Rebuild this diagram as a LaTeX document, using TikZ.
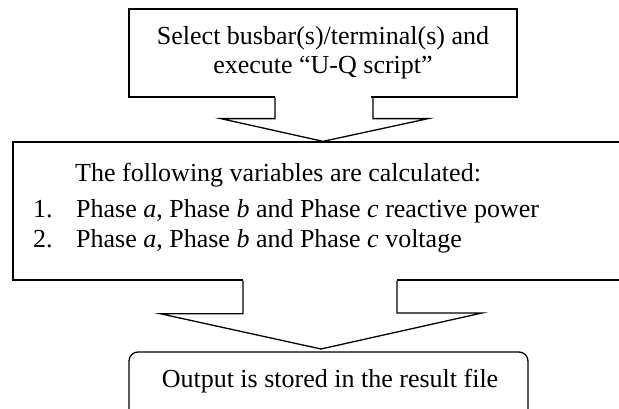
\documentclass[tikz,border=0pt]{standalone}
\usepackage{fontspec}
\setmainfont{Liberation Serif}
\usepackage{tikz}
\usetikzlibrary{calc}

\begin{document}
\begin{tikzpicture}[x=1pt, y=-1pt, line join=miter,
      every node/.style={font=\fontsize{26}{29}\selectfont},
      box/.style={draw=black, line width=1.3pt, inner sep=0pt},
      rbox/.style={box, rounded corners=9pt},
      txt/.style={inner sep=0pt, align=center},
      blk/.style={draw=black, line width=1.3pt}]
    \useasboundingbox (0,0) rectangle (619,409);
    % boxes
    \node[box, minimum width=388pt, minimum height=88pt] (sel) at (323,53) {};
    \node[txt] (seltxt) at (sel) {Select busbar(s)/terminal(s) and\\execute “U-Q script”};
    \node[box, minimum width=614pt, minimum height=138pt] (calc) at (320,211) {};
    \node[txt, align=left, anchor=north west] (vars) at (33,163)
      {\hspace*{42pt}The following variables are calculated:\\[7pt]
       \makebox[43pt][l]{1.}Phase \textit{a}, Phase \textit{b} and Phase \textit{c} reactive power\\[1pt]
       \makebox[43pt][l]{2.}Phase \textit{a}, Phase \textit{b} and Phase \textit{c} voltage};
    \node[rbox, minimum width=399pt, minimum height=66pt] (out) at (328.5,385) {};
    \node[txt] (outtxt) at (330,381) {Output is stored in the result file};
    % block arrows
    \fill[white] ($(sel.south)+(-48,2)$) rectangle ($(sel.south)+(48,-2)$);
    \draw[blk] ($(sel.south)+(-48,0)$) -- ++(0,21) -- ($(sel.south)+(-102,21)$)
      -- (sel.south |- calc.north) -- ($(sel.south)+(105,21)$) -- ($(sel.south)+(50,21)$)
      -- ($(sel.south)+(50,0)$);
    \fill[white] (243,278) rectangle (397,282);
    \draw[blk] (calc.south -| 243,0) -- ++(0,33) -- ++(-83,0) -- (321,349)
      -- ++(161,-36) -- ++(-85,0) -- (calc.south -| 397,0);
\end{tikzpicture}
\end{document}
